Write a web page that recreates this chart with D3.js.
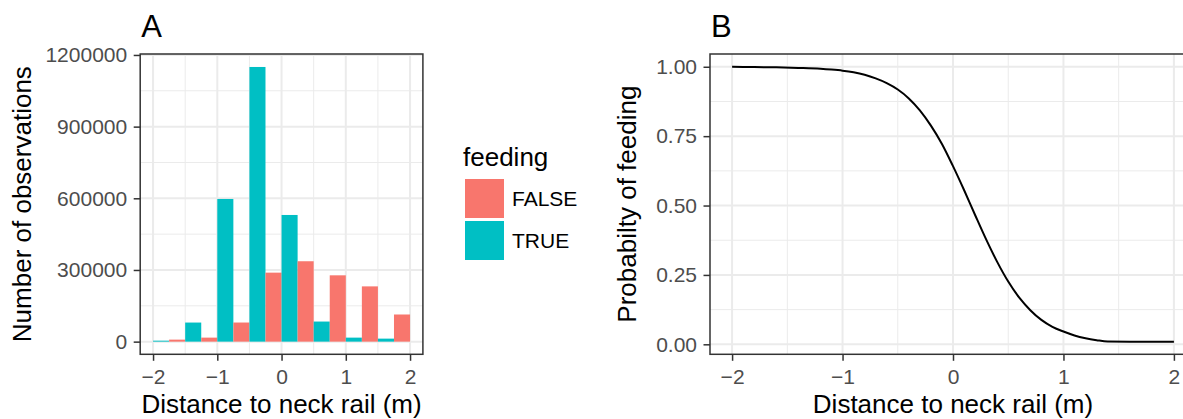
<!DOCTYPE html>
<html>
<head>
<meta charset="utf-8">
<script src="https://cdn.jsdelivr.net/npm/d3@7"></script>
<style>
  body { margin: 0; background: #fff; }
  svg text { font-family: "Liberation Sans", Arial, Helvetica, sans-serif; }
</style>
</head>
<body>
<div id="chart"></div>
<script>
// Panel A: histogram bins (centre of each 0.5 m bin), counts per feeding group
const binCenters  = [-2, -1.5, -1, -0.5, 0, 0.5, 1, 1.5, 2];
const falseCounts = [0, 8400, 16800, 80000, 288800, 336500, 277600, 231300, 113600];
const trueCounts  = [4000, 79900, 597200, 1149700, 530200, 84100, 16800, 12600, 0];
const binWidth = 0.5;

// Panel B: fitted probability of feeding
const curveX = [-2, -1.8, -1.6, -1.4, -1.2, -1.1, -1, -0.9, -0.8, -0.7, -0.6, -0.5, -0.4, -0.3, -0.2, -0.1,
                0, 0.1, 0.2, 0.3, 0.4, 0.5, 0.6, 0.7, 0.8, 0.9, 1, 1.1, 1.2, 1.3, 1.4, 1.6, 1.8, 2];
const curveP = [1.000, 0.999, 0.998, 0.996, 0.993, 0.990, 0.986, 0.980, 0.971, 0.958, 0.941, 0.918,
                0.886, 0.843, 0.788, 0.722, 0.642, 0.556, 0.466, 0.378, 0.297, 0.226, 0.168, 0.123,
                0.088, 0.063, 0.046, 0.032, 0.022, 0.015, 0.010, 0.0095, 0.0095, 0.0095];

const groups = ["FALSE", "TRUE"];
const groupColors = ["#F8766D", "#00BFC4"];

const xTicks = [-2, -1, 0, 1, 2];
const xMinor = [-1.5, -0.5, 0.5, 1.5];
const countTicks = [0, 300000, 600000, 900000, 1200000];
const countMinor = [150000, 450000, 750000, 1050000];
const probTicks = [0, 0.25, 0.5, 0.75, 1];
const probMinor = [0.125, 0.375, 0.625, 0.875];

const W = 1183, H = 419;
const svg = d3.select("#chart").append("svg").attr("width", W).attr("height", H);

const pTop = 54, pBottom = 354.3;
const panelA = {left: 140.2, right: 422.9};
const panelB = {left: 710, right: 1196};

const xA = d3.scaleLinear().domain([-2.2, 2.2]).range([panelA.left, panelA.right]);
const yA = d3.scaleLinear().domain([-53000, 1204000]).range([pBottom, pTop]);
const xB = d3.scaleLinear().domain([-2.2, 2.2]).range([panelB.left, panelB.right]);
const yB = d3.scaleLinear().domain([-0.036, 1.046]).range([pBottom, pTop]);

const gridCol = "#EBEBEB", borderCol = "#333333", tickTextCol = "#4D4D4D";

function drawGrid(g, x, y, xMaj, xMin, yMaj, yMin, p)
{
  // minor first, major on top
  g.selectAll(".vmin").data(xMin).enter().append("line")
    .attr("x1", d => x(d)).attr("x2", d => x(d)).attr("y1", pTop).attr("y2", pBottom)
    .attr("stroke", gridCol).attr("stroke-width", 1);
  g.selectAll(".hmin").data(yMin).enter().append("line")
    .attr("x1", p.left).attr("x2", p.right).attr("y1", d => y(d)).attr("y2", d => y(d))
    .attr("stroke", gridCol).attr("stroke-width", 1);
  g.selectAll(".vmaj").data(xMaj).enter().append("line")
    .attr("x1", d => x(d)).attr("x2", d => x(d)).attr("y1", pTop).attr("y2", pBottom)
    .attr("stroke", gridCol).attr("stroke-width", 2);
  g.selectAll(".hmaj").data(yMaj).enter().append("line")
    .attr("x1", p.left).attr("x2", p.right).attr("y1", d => y(d)).attr("y2", d => y(d))
    .attr("stroke", gridCol).attr("stroke-width", 2);
}

function drawAxes(x, y, xMaj, yMaj, yFmt, p)
{
  let ax = svg.append("g").attr("transform", `translate(0,${pBottom})`)
    .call(d3.axisBottom(x).tickValues(xMaj).tickFormat(d3.format("d")).tickSize(6.5).tickPadding(8.2));
  let ay = svg.append("g").attr("transform", `translate(${p.left},0)`)
    .call(d3.axisLeft(y).tickValues(yMaj).tickFormat(yFmt).tickSize(6.5).tickPadding(6.5));
  [ax, ay].forEach(a => {
    a.select(".domain").remove();
    a.selectAll("line").attr("stroke", borderCol).attr("stroke-width", 1.5);
    a.selectAll("text").attr("fill", tickTextCol).style("font-size", "21px")
      .style("font-family", '"Liberation Sans", Arial, sans-serif');
  });
}

function drawBorder(p)
{
  svg.append("rect")
    .attr("x", p.left).attr("y", pTop)
    .attr("width", p.right - p.left).attr("height", pBottom - pTop)
    .attr("fill", "none").attr("stroke", borderCol).attr("stroke-width", 1.5);
}

// ---------- Panel A ----------
svg.append("defs").append("clipPath").attr("id", "clipA")
  .append("rect").attr("x", panelA.left).attr("y", pTop)
  .attr("width", panelA.right - panelA.left).attr("height", pBottom - pTop);

drawGrid(svg.append("g"), xA, yA, xTicks, xMinor, countTicks, countMinor, panelA);

const barData = [];
binCenters.forEach((c, i) => {
  barData.push({x0: c - binWidth / 2, x1: c, n: falseCounts[i], g: 0});
  barData.push({x0: c, x1: c + binWidth / 2, n: trueCounts[i], g: 1});
});

svg.append("g").attr("clip-path", "url(#clipA)")
  .selectAll("rect").data(barData.filter(d => d.n > 0)).enter().append("rect")
  .attr("x", d => xA(d.x0))
  .attr("width", d => xA(d.x1) - xA(d.x0))
  .attr("y", d => yA(d.n))
  .attr("height", d => yA(0) - yA(d.n))
  .attr("fill", d => groupColors[d.g]);

drawBorder(panelA);
drawAxes(xA, yA, xTicks, countTicks, d3.format("d"), panelA);

// ---------- Panel B ----------
drawGrid(svg.append("g"), xB, yB, xTicks, xMinor, probTicks, probMinor, panelB);

const line = d3.line()
  .x((d, i) => xB(curveX[i]))
  .y(d => yB(d))
  .curve(d3.curveMonotoneX);

svg.append("path").datum(curveP)
  .attr("d", line)
  .attr("fill", "none")
  .attr("stroke", "#000")
  .attr("stroke-width", 2);

drawBorder(panelB);
drawAxes(xB, yB, xTicks, probTicks, d3.format(".2f"), panelB);

// ---------- Titles ----------
const titles = svg.append("g").attr("fill", "#000");
titles.append("text").attr("x", panelA.left + 1).attr("y", 37).style("font-size", "31px").text("A");
titles.append("text").attr("x", panelB.left + 1).attr("y", 37).style("font-size", "31px").text("B");

titles.append("text").attr("x", (panelA.left + panelA.right) / 2).attr("y", 412.5)
  .attr("text-anchor", "middle").style("font-size", "26px").text("Distance to neck rail (m)");
titles.append("text").attr("x", (panelB.left + panelB.right) / 2).attr("y", 412.5)
  .attr("text-anchor", "middle").style("font-size", "26px").text("Distance to neck rail (m)");

titles.append("text")
  .attr("transform", `translate(31,${(pTop + pBottom) / 2}) rotate(-90)`)
  .attr("text-anchor", "middle").style("font-size", "26px").text("Number of observations");
titles.append("text")
  .attr("transform", `translate(636,${(pTop + pBottom) / 2}) rotate(-90)`)
  .attr("text-anchor", "middle").style("font-size", "26px").text("Probabilty of feeding");

// ---------- Legend ----------
const legend = svg.append("g");
legend.append("text").attr("x", 463).attr("y", 166).style("font-size", "26px").text("feeding");
groups.forEach((g, i) => {
  legend.append("rect")
    .attr("x", 465).attr("y", 179 + i * 42)
    .attr("width", 39).attr("height", 39)
    .attr("fill", groupColors[i]);
  legend.append("text")
    .attr("x", 512).attr("y", 179 + i * 42 + 19.5)
    .attr("dy", "0.36em")
    .style("font-size", "21px")
    .text(g);
});
</script>
</body>
</html>
